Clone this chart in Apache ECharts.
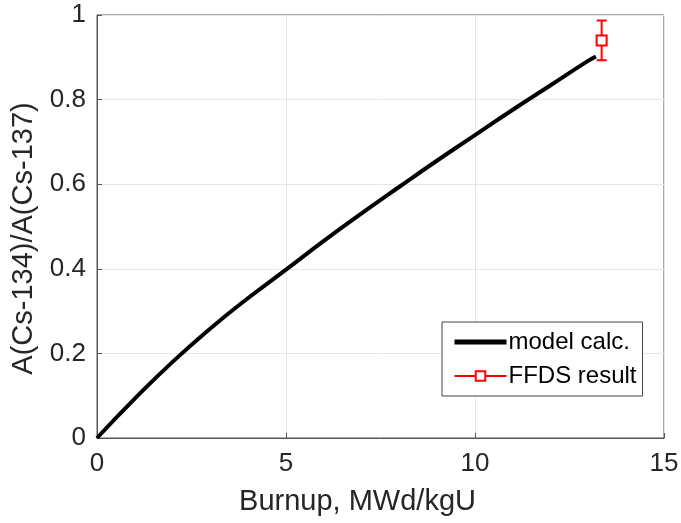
<!DOCTYPE html>
<html>
<head>
<meta charset="utf-8">
<script src="https://cdn.jsdelivr.net/npm/echarts@6/dist/echarts.min.js"></script>
<style>
    html, body { margin: 0; padding: 0; background: #fff; }
    #chart { width: 681px; height: 523px; }
</style>
</head>
<body>
<div id="chart"></div>
<script>
    // model curve
    const burnup = [0, 1, 2, 3, 4, 5, 6, 7, 8, 9, 10, 11, 12, 13, 13.2];
    const ratio = [0, 0.093, 0.180, 0.259, 0.331, 0.398, 0.466, 0.531, 0.594, 0.656, 0.716, 0.776, 0.834, 0.892, 0.902];

    // FFDS measurement with error bar
    const ffdsX = [13.35];
    const ffdsY = [0.940];
    const ffdsErr = [0.047];

    const xTicks = [0, 5, 10, 15];
    const yTicks = [0, 0.2, 0.4, 0.6, 0.8, 1];

    const font = "Liberation Sans";
    const axisColor = "#262626";

    var myChart = echarts.init(document.getElementById("chart"));

    const curve = burnup.map((x, i) => [x, ratio[i]]);
    const ffds = ffdsX.map((x, i) => [x, ffdsY[i]]);
    const errData = ffdsX.map((x, i) => [x, ffdsY[i] - ffdsErr[i], ffdsY[i] + ffdsErr[i]]);

    const option = {
        animation: false,
        backgroundColor: "#fff",
        grid: {
            left: 97,
            right: 17,
            top: 15,
            bottom: 85,
            outerBoundsMode: "none",
            containLabel: false,
            show: true,
            borderColor: "#555",
            borderWidth: 1,
        },
        legend: {
            orient: "vertical",
            left: 442,
            top: 322,
            padding: [8, 6, 8, 10],
            itemGap: 10,
            itemWidth: 52,
            itemHeight: 12,
            borderColor: "#444",
            borderWidth: 1,
            backgroundColor: "#fff",
            textStyle: { fontFamily: font, fontSize: 24, color: "#000", padding: [0, 0, 0, -3] },
            data: [
                { name: "model calc.", itemStyle: { opacity: 0 }, lineStyle: { width: 5 } },
                { name: "FFDS result" },
            ],
        },
        xAxis: {
            type: "value",
            min: 0,
            max: 15,
            interval: 5,
            name: "Burnup, MWd/kgU",
            nameLocation: "middle",
            nameGap: 49,
            nameTextStyle: { fontFamily: font, fontSize: 29, color: axisColor, padding: [0, 46, 0, 0] },
            axisLine: { lineStyle: { color: "#555" } },
            axisTick: { inside: true, length: 5, lineStyle: { color: "#555" } },
            axisLabel: {
                fontFamily: font,
                fontSize: 26,
                color: axisColor,
                margin: 13,
                formatter: (v) => (xTicks.includes(v) ? String(v) : ""),
            },
            splitLine: { show: true, lineStyle: { color: "#e6e6e6", width: 1 } },
        },
        yAxis: {
            type: "value",
            min: 0,
            max: 1,
            interval: 0.2,
            name: "A(Cs-134)/A(Cs-137)",
            nameLocation: "middle",
            nameGap: 54,
            nameTextStyle: { fontFamily: font, fontSize: 29, color: axisColor, padding: [0, 24, 0, 0] },
            axisLine: { show: true, lineStyle: { color: "#555" } },
            axisTick: { show: true, inside: true, length: 5, lineStyle: { color: "#555" } },
            axisLabel: {
                fontFamily: font,
                fontSize: 26,
                color: axisColor,
                margin: 11,
                formatter: (v) => {
                    const t = yTicks.find((k) => Math.abs(k - v) < 1e-9);
                    return t === undefined ? "" : String(t);
                },
            },
            splitLine: { show: true, lineStyle: { color: "#e6e6e6", width: 1 } },
        },
        series: [
            {
                name: "model calc.",
                type: "line",
                data: curve,
                smooth: true,
                showSymbol: false,
                symbol: "none",
                lineStyle: { color: "#000", width: 4 },
                itemStyle: { color: "#000" },
                z: 3,
            },
            {
                type: "custom",
                data: errData,
                renderItem: (params, api) => {
                    const x = api.value(0);
                    const lo = api.coord([x, api.value(1)]);
                    const hi = api.coord([x, api.value(2)]);
                    const cap = 5;
                    const st = { stroke: "#ff0000", lineWidth: 2 };
                    return {
                        type: "group",
                        children: [
                            { type: "line", shape: { x1: lo[0], y1: lo[1], x2: hi[0], y2: hi[1] }, style: st },
                            { type: "line", shape: { x1: lo[0] - cap, y1: lo[1], x2: lo[0] + cap, y2: lo[1] }, style: st },
                            { type: "line", shape: { x1: hi[0] - cap, y1: hi[1], x2: hi[0] + cap, y2: hi[1] }, style: st },
                        ],
                    };
                },
                z: 4,
            },
            {
                name: "FFDS result",
                type: "line",
                data: ffds,
                symbol: "rect",
                symbolSize: 10,
                showSymbol: true,
                lineStyle: { color: "#ff0000", width: 2 },
                itemStyle: { color: "#fff", borderColor: "#ff0000", borderWidth: 2 },
                z: 5,
            },
        ],
    };
    myChart.setOption(option);
</script>
</body>
</html>
